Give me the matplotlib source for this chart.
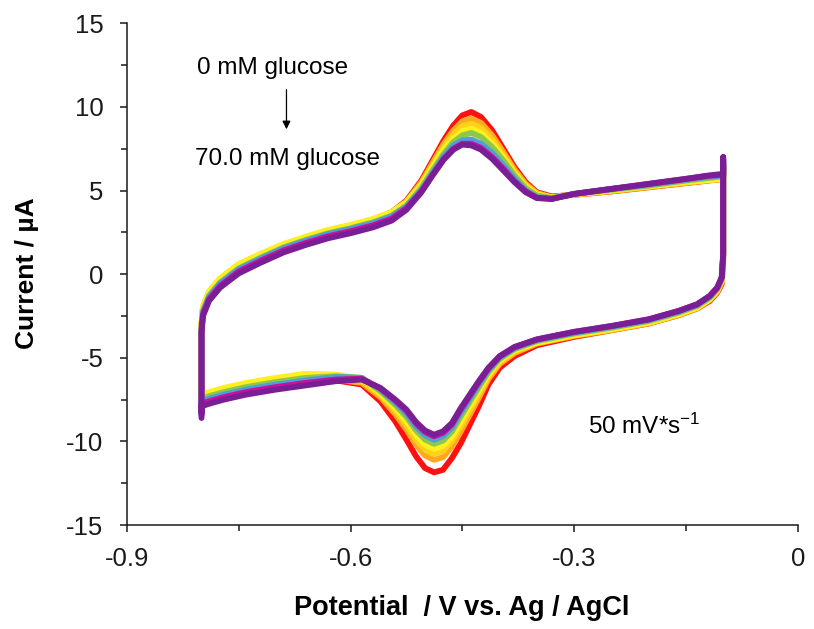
import matplotlib
matplotlib.use("Agg")
import matplotlib.pyplot as plt
from matplotlib.ticker import MultipleLocator

plt.rcParams['font.family'] = ['Liberation Sans', 'DejaVu Sans']
plt.rcParams['mathtext.fontset'] = 'custom'
plt.rcParams['mathtext.rm'] = 'Liberation Sans'
plt.rcParams['mathtext.it'] = 'Liberation Sans:italic'

# Potential grid for the forward (anodic) sweep, -0.8 V -> -0.1 V
e_fwd = [-0.800, -0.800, -0.798, -0.790, -0.775, -0.750, -0.720, -0.690, -0.660,
         -0.630, -0.600, -0.570, -0.545, -0.525, -0.505, -0.490, -0.475, -0.462,
         -0.450, -0.438, -0.425, -0.410, -0.395, -0.380, -0.365, -0.350, -0.330,
         -0.300, -0.250, -0.200, -0.150, -0.120, -0.100, -0.100]

# Potential grid for the reverse (cathodic) sweep, -0.1 V -> -0.8 V
e_rev = [-0.100, -0.100, -0.102, -0.108, -0.118, -0.135, -0.160, -0.200, -0.250,
         -0.300, -0.350, -0.380, -0.400, -0.415, -0.428, -0.440, -0.452, -0.464,
         -0.476, -0.488, -0.500, -0.512, -0.525, -0.540, -0.560, -0.585, -0.620,
         -0.660, -0.700, -0.740, -0.770, -0.790, -0.800, -0.800]

# Current (uA), one forward and one reverse list per glucose concentration
red_fwd = [-8.0, -3.0, -2.0, -1.1, -0.3, 0.55, 1.2, 1.75, 2.2, 2.6, 2.9, 3.25, 3.7,
           4.4, 5.6, 6.8, 8.0, 8.9, 9.5, 9.7, 9.4, 8.6, 7.5, 6.4, 5.5, 4.9, 4.65,
           4.75, 4.95, 5.2, 5.45, 5.6, 5.7, 6.5]
red_rev = [5.3, 0.8, -0.6, -1.1, -1.6, -2.05, -2.45, -2.95, -3.35, -3.75, -4.25,
           -4.9, -5.6, -6.6, -7.9, -9.0, -10.1, -11.0, -11.7, -11.85, -11.6, -10.9,
           -9.9, -8.8, -7.6, -6.6, -6.35, -6.1, -6.35, -6.65, -6.95, -7.2, -7.35, -8.0]

orange_fwd = [-8.0, -3.0, -2.0, -1.1, -0.3, 0.55, 1.2, 1.75, 2.2, 2.6, 2.9, 3.25, 3.7,
              4.35, 5.5, 6.65, 7.8, 8.6, 9.15, 9.3, 9.05, 8.3, 7.3, 6.25, 5.4, 4.85,
              4.6, 4.75, 4.95, 5.2, 5.45, 5.6, 5.7, 6.5]
orange_rev = [5.35, 0.9, -0.5, -1.05, -1.55, -2.05, -2.45, -2.95, -3.35, -3.7, -4.15,
              -4.72, -5.37, -6.27, -7.4, -8.4, -9.4, -10.3, -10.95, -11.1, -10.85,
              -10.2, -9.3, -8.37, -7.35, -6.5, -6.3, -6.1, -6.35, -6.65, -6.95, -7.2,
              -7.35, -8.0]

gold_fwd = [-8.0, -3.0, -1.95, -1.05, -0.25, 0.6, 1.22, 1.78, 2.22, 2.62, 2.93, 3.28,
            3.7, 4.3, 5.4, 6.5, 7.6, 8.35, 8.85, 9.0, 8.75, 8.05, 7.1, 6.1, 5.3, 4.8,
            4.6, 4.78, 5.0, 5.25, 5.5, 5.65, 5.75, 6.6]
gold_rev = [5.4, 1.0, -0.4, -1.0, -1.5, -2.0, -2.4, -2.9, -3.3, -3.65, -4.1, -4.63,
            -5.26, -6.11, -7.17, -8.12, -9.07, -9.97, -10.57, -10.75, -10.5, -9.9,
            -9.02, -8.16, -7.21, -6.4, -6.15, -6.0, -6.25, -6.55, -6.85, -7.1, -7.25,
            -7.9]

yellow_fwd = [-8.0, -3.0, -1.95, -1.05, -0.25, 0.6, 1.22, 1.8, 2.25, 2.65, 2.95, 3.3,
              3.7, 4.3, 5.35, 6.4, 7.45, 8.1, 8.55, 8.7, 8.45, 7.8, 6.95, 6.0, 5.25,
              4.75, 4.58, 4.78, 5.0, 5.25, 5.5, 5.62, 5.7, 6.6]
yellow_rev = [5.4, 1.0, -0.4, -1.0, -1.5, -2.0, -2.4, -2.9, -3.3, -3.65, -4.1, -4.56,
              -5.17, -5.98, -6.97, -7.88, -8.8, -9.7, -10.27, -10.45, -10.2, -9.63,
              -8.78, -8.0, -7.1, -6.25, -6.0, -5.95, -6.2, -6.5, -6.8, -7.05, -7.2,
              -7.9]

green_fwd = [-8.1, -3.2, -2.2, -1.3, -0.5, 0.35, 1.0, 1.6, 2.05, 2.45, 2.75, 3.1, 3.5,
             4.1, 5.15, 6.2, 7.2, 7.9, 8.3, 8.45, 8.2, 7.6, 6.8, 5.9, 5.15, 4.7, 4.55,
             4.8, 5.05, 5.3, 5.6, 5.75, 5.85, 6.7]
green_rev = [5.45, 1.1, -0.3, -0.9, -1.4, -1.9, -2.3, -2.8, -3.2, -3.55, -4.0, -4.48,
             -5.07, -5.84, -6.76, -7.63, -8.5, -9.4, -9.95, -10.14, -9.89, -9.34,
             -8.53, -7.81, -6.99, -6.2, -6.1, -6.2, -6.45, -6.75, -7.05, -7.3, -7.45,
             -8.2]

blue_fwd = [-8.15, -3.3, -2.25, -1.35, -0.55, 0.3, 0.95, 1.55, 2.0, 2.4, 2.7, 3.05,
            3.45, 4.05, 5.05, 6.05, 7.05, 7.7, 8.0, 8.05, 7.8, 7.25, 6.5, 5.7, 5.0,
            4.6, 4.52, 4.8, 5.1, 5.35, 5.65, 5.82, 5.9, 6.8]
blue_rev = [5.5, 1.15, -0.25, -0.85, -1.35, -1.85, -2.25, -2.75, -3.15, -3.5, -3.95,
            -4.42, -4.99, -5.73, -6.6, -7.43, -8.27, -9.17, -9.7, -9.9, -9.64, -9.12,
            -8.33, -7.67, -6.9, -6.2, -6.15, -6.35, -6.6, -6.9, -7.2, -7.45, -7.6,
            -8.35]

magenta_fwd = [-8.25, -3.4, -2.4, -1.5, -0.7, 0.17, 0.82, 1.42, 1.87, 2.27, 2.57,
               2.92, 3.32, 3.95, 4.95, 5.95, 6.9, 7.5, 7.8, 7.8, 7.55, 7.0, 6.3, 5.55,
               4.95, 4.57, 4.5, 4.8, 5.1, 5.4, 5.7, 5.88, 5.95, 6.9]
magenta_rev = [5.5, 1.2, -0.2, -0.8, -1.3, -1.8, -2.2, -2.7, -3.1, -3.45, -3.9, -4.37,
               -4.93, -5.64, -6.46, -7.27, -8.08, -8.98, -9.49, -9.69, -9.44, -8.93,
               -8.17, -7.55, -6.83, -6.25, -6.3, -6.5, -6.75, -7.05, -7.35, -7.6,
               -7.75, -8.45]

purple_fwd = [-8.3, -3.5, -2.5, -1.6, -0.8, 0.05, 0.7, 1.3, 1.75, 2.15, 2.45, 2.8,
              3.2, 3.85, 4.9, 5.9, 6.85, 7.45, 7.75, 7.7, 7.45, 6.9, 6.2, 5.5, 4.9,
              4.55, 4.5, 4.8, 5.1, 5.4, 5.7, 5.9, 6.0, 7.0]
purple_rev = [5.5, 1.2, -0.2, -0.8, -1.3, -1.8, -2.2, -2.7, -3.1, -3.45, -3.9, -4.35,
              -4.9, -5.6, -6.4, -7.2, -8.0, -8.9, -9.4, -9.6, -9.35, -8.85, -8.1, -7.5,
              -6.8, -6.3, -6.4, -6.65, -6.9, -7.2, -7.5, -7.75, -7.9, -8.6]

curves = [
    (red_fwd, red_rev, '#FF1010'),
    (orange_fwd, orange_rev, '#FFA820'),
    (gold_fwd, gold_rev, '#FFD21A'),
    (yellow_fwd, yellow_rev, '#FFF01E'),
    (green_fwd, green_rev, '#8CC84B'),
    (blue_fwd, blue_rev, '#4E9ED8'),
    (magenta_fwd, magenta_rev, '#C8109E'),
    (purple_fwd, purple_rev, '#7A1E96'),
]

fig = plt.figure(figsize=(8.14, 6.29), dpi=100)
ax = fig.add_axes([0.156, 0.1653, 0.824, 0.7976])

for fwd, rev, col in curves:
    ax.plot(e_fwd + e_rev, fwd + rev, color=col, lw=4.2,
            solid_joinstyle='round', solid_capstyle='round')

ax.set_xlim(-0.9, 0)
ax.set_ylim(-15, 15)
ax.xaxis.set_minor_locator(MultipleLocator(0.15))
ax.yaxis.set_minor_locator(MultipleLocator(2.5))
ax.set_xticks([-0.9, -0.6, -0.3, 0])
ax.set_xticklabels(['-0.9', '-0.6', '-0.3', '0'])
ax.set_yticks([-15, -10, -5, 0, 5, 10, 15])
ax.set_yticklabels(['-15', '-10', '-5', '0', '5', '10', '15'])

for side in ['top', 'right']:
    ax.spines[side].set_visible(False)
for side in ['left', 'bottom']:
    ax.spines[side].set_linewidth(1.1)
    ax.spines[side].set_color('#1a1a1a')

ax.tick_params(which='major', direction='out', length=5, width=1.1, labelsize=18.5,
               colors='#1a1a1a', pad=12)
ax.tick_params(which='minor', direction='out', length=4, width=1.1, colors='#1a1a1a')
ax.tick_params(axis='x', pad=11)

# axis titles placed by hand, centred on the plot area
ax.text(0.499, -0.165, 'Potential  / V vs. Ag / AgCl', transform=ax.transAxes,
        fontsize=19.5, fontweight='bold', ha='center', va='center')
ax.text(-0.149, 0.502, 'Current / \u00b5A', transform=ax.transAxes, rotation=90,
        fontsize=19, fontweight='bold', ha='center', va='center')

ax.text(-0.705, 12.3, '0 mM glucose', fontsize=17.5, ha='center', va='center')
ax.text(-0.685, 6.9, '70.0 mM glucose', fontsize=17.5, ha='center', va='center')
ax.annotate('', xy=(-0.686, 8.5), xytext=(-0.686, 11.2),
            arrowprops=dict(arrowstyle='-|>', color='black', lw=0.9,
                            mutation_scale=12))
ax.text(-0.206, -9.1, '50 mV*s$^{\\mathrm{-1}}$', fontsize=17.5, ha='center', va='center')

fig.savefig('out.png', dpi=100)
